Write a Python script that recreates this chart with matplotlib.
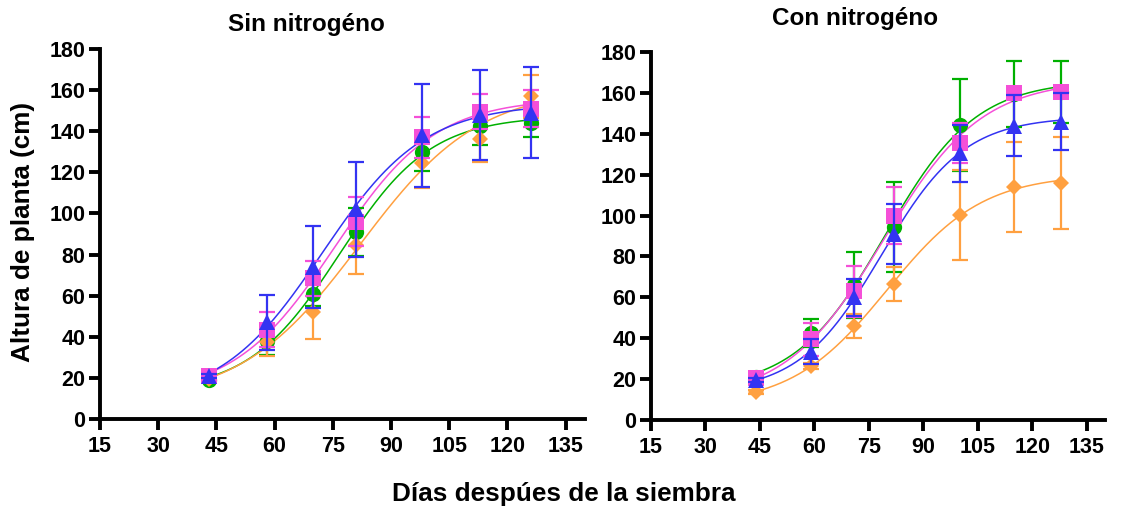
import numpy as np
import matplotlib
matplotlib.use('Agg')
import matplotlib.pyplot as plt

plt.rcParams['font.family'] = ['Liberation Sans', 'DejaVu Sans']
plt.rcParams['font.weight'] = 'bold'

########
# DATA #
########
dias_sin = [43, 58, 70, 81, 98, 113, 126]
dias_con = [44, 59, 71, 82, 100, 115, 128]

# Sin nitrogeno
sin_verde = [19, 38, 61, 91, 130, 142.5, 144]
sin_verde_err = [1, 7, 6, 11.5, 9.5, 9, 7]
sin_naranja = [19.5, 37.5, 52, 84.5, 124.5, 136, 157]
sin_naranja_err = [1, 7, 13, 14, 12, 11, 10.5]
sin_rosa = [21, 43.5, 68.5, 96, 137, 149.5, 151]
sin_rosa_err = [1, 8.5, 8.5, 12, 10, 8.5, 9]
sin_azul = [21, 47, 74, 102, 138, 148, 149]
sin_azul_err = [1, 13.5, 20, 23, 25, 22, 22]

# Con nitrogeno
con_verde = [21, 42.5, 66, 94.5, 144.5, 159.5, 160.5]
con_verde_err = [1, 7, 16, 22, 22.5, 16, 15]
con_naranja = [13.5, 26.5, 46, 66.5, 100.5, 114, 116]
con_naranja_err = [1, 1.5, 6, 8.5, 22, 22, 22.5]
con_rosa = [20.5, 39.5, 63, 100, 135.5, 160, 160.5]
con_rosa_err = [1, 8, 12.5, 14, 10, 3, 3]
con_azul = [19.5, 33.5, 60, 91, 130.5, 144, 146]
con_azul_err = [1, 6, 9, 14.5, 14, 15, 14]

ticks_x = [15, 30, 45, 60, 75, 90, 105, 120, 135]
ticks_y = [0, 20, 40, 60, 80, 100, 120, 140, 160, 180]

# ---STYLES--- (green, orange, pink, blue)
colores = ['#00b000', '#ffa040', '#f550d8', '#3333f2']
marcas = ['o', 'D', 's', '^']
tamanos = [11, 8.6, 11.6, 12]


###########
# AJUSTE  #
###########
def ajuste(x, y):
    # sigmoidal (4 parametros) fit by grid search + linear least squares
    x = np.asarray(x, float)
    y = np.asarray(y, float)
    k = np.linspace(0.02, 0.25, 231)[:, None, None]
    x0 = np.linspace(45, 115, 281)[None, :, None]
    s = 1.0 / (1.0 + np.exp(-k * (x - x0)))
    sm = s.mean(-1, keepdims=True)
    ym = y.mean()
    c = ((s - sm) * (y - ym)).sum(-1) / ((s - sm) ** 2).sum(-1)
    b = ym - c * sm[..., 0]
    sse = ((b[..., None] + c[..., None] * s - y) ** 2).sum(-1)
    i, j = np.unravel_index(np.argmin(sse), sse.shape)
    xs = np.linspace(x[0], x[-1], 200)
    ys = b[i, j] + c[i, j] / (1.0 + np.exp(-k[i, 0, 0] * (xs - x0[0, j, 0])))
    return xs, ys


def panel(ax, dias, series):
    for n, (y, e) in enumerate(series):
        xs, ys = ajuste(dias, y)
        ax.plot(xs, ys, color=colores[n], lw=1.1, zorder=2 + n)
        ax.plot(dias, y, marcas[n], color=colores[n], ms=tamanos[n], mew=0,
                zorder=6 + 2 * n, clip_on=False)
        ax.errorbar(dias, y, yerr=e, fmt='none', ecolor=colores[n],
                    elinewidth=1.6, capsize=5.6, capthick=1.6,
                    zorder=7 + 2 * n)
    ax.set_xlim(15, 140)
    ax.set_ylim(0, 180)
    ax.set_xticks(ticks_x)
    ax.set_yticks(ticks_y)
    for s in ['top', 'right']:
        ax.spines[s].set_visible(False)
    for s in ['left', 'bottom']:
        ax.spines[s].set_linewidth(2.8)
        ax.spines[s].set_zorder(20)
    ax.tick_params(width=2.8, length=8, labelsize=15.5)
    ax.tick_params(axis='x', pad=4)
    ax.tick_params(axis='y', pad=2.5)
    for lab in ax.get_xticklabels() + ax.get_yticklabels():
        lab.set_fontweight('bold')


############
# PLOTTING #
############
f = plt.figure(figsize=(11.22, 5.11), dpi=100)
ax1 = f.add_axes([100 / 1122, 1 - 419 / 511, 485 / 1122, 370 / 511])
ax2 = f.add_axes([651 / 1122, 1 - 420 / 511, 454 / 1122, 368 / 511])

panel(ax1, dias_sin, [(sin_verde, sin_verde_err), (sin_naranja, sin_naranja_err),
                      (sin_rosa, sin_rosa_err), (sin_azul, sin_azul_err)])
panel(ax2, dias_con, [(con_verde, con_verde_err), (con_naranja, con_naranja_err),
                      (con_rosa, con_rosa_err), (con_azul, con_azul_err)])

f.text(306 / 1122, 1 - 24 / 511, 'Sin nitrogéno', ha='center', va='center',
       fontsize=17.5, fontweight='bold')
f.text(855 / 1122, 1 - 18.5 / 511, 'Con nitrogéno', ha='center', va='center',
       fontsize=17.5, fontweight='bold')
f.text(23 / 1122, 1 - 232 / 511, 'Altura de planta (cm)', rotation=90,
       ha='center', va='center', fontsize=18.8, fontweight='bold')
f.text(564 / 1122, 1 - 494 / 511, 'Días despúes de la siembra', ha='center',
       va='center', fontsize=18.8, fontweight='bold')

plt.savefig('out.png', dpi=100)
